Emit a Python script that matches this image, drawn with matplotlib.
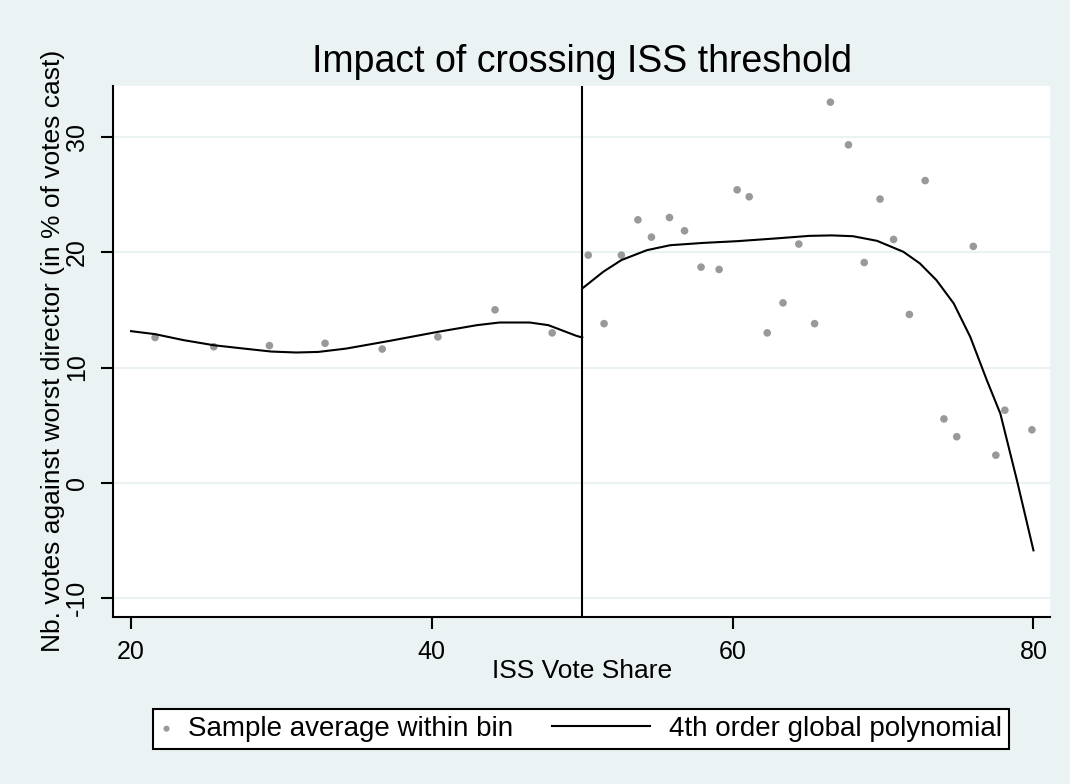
import matplotlib.pyplot as plt
from matplotlib.legend_handler import HandlerLine2D

# bin averages
bin_x = [21.6, 25.5, 29.2, 32.9, 36.7, 40.4, 44.2, 48.0,
         50.4, 51.45, 52.6, 53.7, 54.6, 55.8, 56.8, 57.9, 59.1, 60.3, 61.1,
         62.3, 63.35, 64.4, 65.45, 66.5, 67.7, 68.75, 69.8, 70.7, 71.75,
         72.8, 74.05, 74.9, 76.0, 77.5, 78.1, 79.9]
bin_y = [12.6, 11.8, 11.9, 12.1, 11.6, 12.65, 15.0, 13.0,
         19.74, 13.8, 19.74, 22.8, 21.3, 23.0, 21.85, 18.7, 18.5, 25.4, 24.8,
         13.0, 15.6, 20.7, 13.8, 33.0, 29.3, 19.1, 24.6, 21.1, 14.6,
         26.2, 5.54, 4.0, 20.5, 2.4, 6.3, 4.6]

# fitted polynomial, left and right of the threshold
left_x = [20.0, 21.6, 23.5, 25.5, 27.5, 29.35, 31.0, 32.45, 34.3, 37.2,
          40.4, 43.0, 44.5, 46.5, 47.75, 49.6, 50.0]
left_y = [13.15, 12.89, 12.37, 11.93, 11.64, 11.38, 11.3, 11.35, 11.64, 12.31,
          13.09, 13.67, 13.9, 13.9, 13.67, 12.75, 12.6]
right_x = [50.0, 51.4, 52.6, 54.3, 55.85, 58.05, 60.3, 62.9, 65.1, 66.6,
           68.0, 69.6, 71.35, 72.45, 73.55, 74.7, 75.8, 76.9, 77.8, 78.9, 80.0]
right_y = [16.85, 18.3, 19.31, 20.17, 20.6, 20.8, 20.95, 21.19, 21.41, 21.45,
           21.38, 20.98, 20.03, 19.02, 17.57, 15.55, 12.65, 8.9, 6.0, 0.23, -5.85]

threshold = 50
x_ticks = [20, 40, 60, 80]
y_ticks = [-10, 0, 10, 20, 30]

bg = '#eaf2f3'
plt.rcParams['font.family'] = ['Liberation Sans', 'DejaVu Sans']


class LongLine(HandlerLine2D):
    # stata draws a wide key for the line; stretch it into the column gap
    def get_xdata(self, legend, xdescent, ydescent, width, height, fontsize):
        xd = [-xdescent - 64, width - 3.5]
        return xd, xd


fig = plt.figure(figsize=(10.7, 7.84), dpi=100, facecolor=bg)
ax = fig.add_axes([0.1059, 0.2134, 0.8754, 0.6769])
ax.set_facecolor('white')

ax.scatter(bin_x, bin_y, s=30, color='#999999', edgecolors='none', zorder=3,
           label='Sample average within bin')
line, = ax.plot(left_x, left_y, color='black', lw=1.5, zorder=4,
                label='4th order global polynomial')
ax.plot(right_x, right_y, color='black', lw=1.5, zorder=4)
ax.axvline(threshold, color='black', lw=1.5, zorder=2)

ax.set_xlim(18.82, 81.1)
ax.set_ylim(-11.6, 34.4)
ax.set_xticks(x_ticks)
ax.set_yticks(y_ticks)
ax.set_yticklabels([str(t) for t in y_ticks], rotation=90, va='center')
ax.grid(axis='y', color=bg, lw=1.5)
ax.set_axisbelow(True)

for side in ['top', 'right']:
    ax.spines[side].set_visible(False)
for side in ['left', 'bottom']:
    ax.spines[side].set_linewidth(1.5)
ax.tick_params(axis='both', length=8.5, width=1.5, labelsize=18)
ax.tick_params(axis='x', pad=8)
ax.tick_params(axis='y', pad=9)

ax.set_title('Impact of crossing ISS threshold', fontsize=27, pad=10)
ax.set_xlabel('ISS Vote Share', fontsize=19, labelpad=-3)
ax.set_ylabel('Nb. votes against worst director (in % of votes cast)', fontsize=19, labelpad=0)

leg = fig.legend(loc='center', bbox_to_anchor=(0.543, 0.0702), ncol=2, fontsize=20,
                 frameon=True, fancybox=False, edgecolor='black', framealpha=1,
                 handlelength=0.5, handletextpad=0.54, columnspacing=4.57,
                 markerscale=0.8, borderpad=0.25, handler_map={line: LongLine()})
leg.get_frame().set_linewidth(1.5)

fig.savefig('out.png', dpi=100, facecolor=bg)
